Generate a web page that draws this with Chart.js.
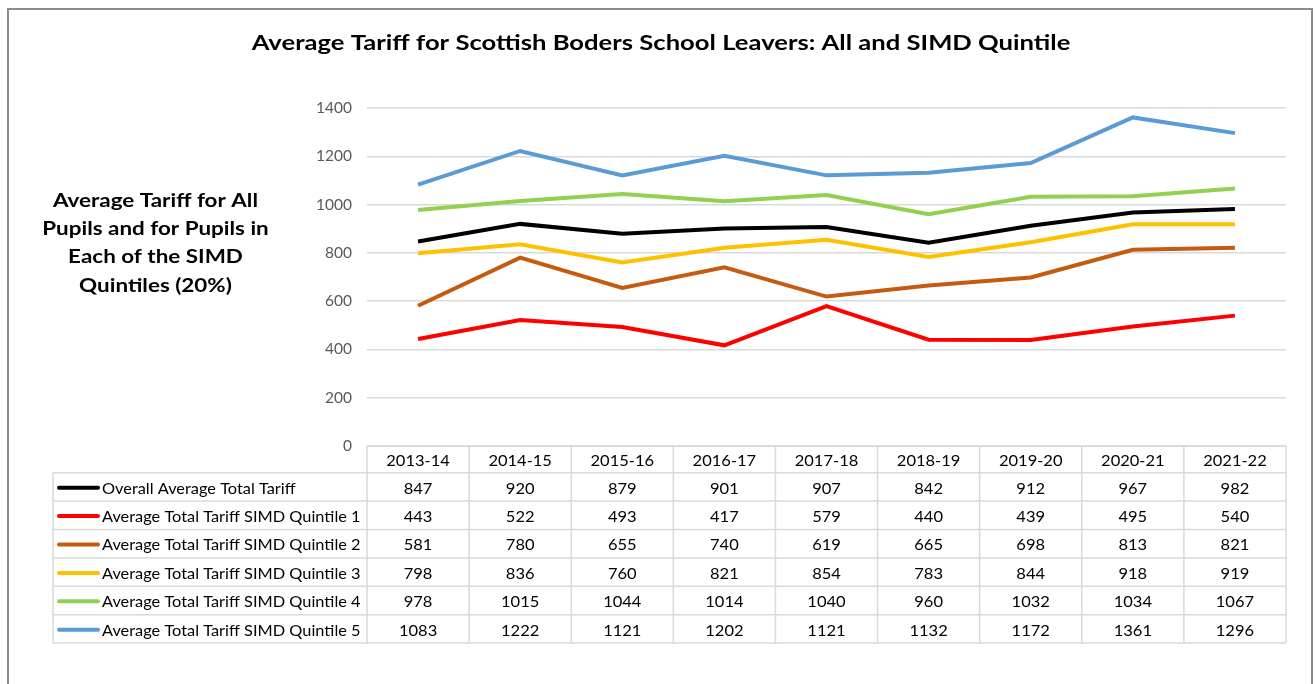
<!DOCTYPE html>
<html>
<head>
<meta charset="utf-8">
<title>Average Tariff for Scottish Boders School Leavers</title>
<script src="https://cdn.jsdelivr.net/npm/chart.js@4/dist/chart.umd.min.js"></script>
<style>
  html, body { margin: 0; padding: 0; background: #fff; }
  #wrap { width: 1315px; height: 684px; position: relative; }
</style>
</head>
<body>
<div id="wrap"><canvas id="chart"></canvas></div>
<script>
const years = ['2013-14', '2014-15', '2015-16', '2016-17', '2017-18', '2018-19', '2019-20', '2020-21', '2021-22'];

const overall = [847, 920, 879, 901, 907, 842, 912, 967, 982];
const quintile1 = [443, 522, 493, 417, 579, 440, 439, 495, 540];
const quintile2 = [581, 780, 655, 740, 619, 665, 698, 813, 821];
const quintile3 = [798, 836, 760, 821, 854, 783, 844, 918, 919];
const quintile4 = [978, 1015, 1044, 1014, 1040, 960, 1032, 1034, 1067];
const quintile5 = [1083, 1222, 1121, 1202, 1121, 1132, 1172, 1361, 1296];

const yTicks = [0, 200, 400, 600, 800, 1000, 1200, 1400];

const titleText = 'Average Tariff for Scottish Boders School Leavers: All and SIMD Quintile';
const axisTitleLines = ['Average Tariff for All', 'Pupils and for Pupils in', 'Each of the SIMD', 'Quintiles (20%)'];

const FONT = 'Lato, "Open Sans", sans-serif';

function series(label, data, color) {
    return {
        label: label,
        data: data,
        borderColor: color,
        backgroundColor: color,
        borderWidth: 4,
        pointRadius: 0,
        pointHoverRadius: 0,
        tension: 0
    };
}

// text drawn a little wider than the font's own proportions
function wideText(ctx, text, x, y, sx, align) {
    ctx.save();
    ctx.translate(x, y);
    ctx.scale(sx, 1);
    ctx.textAlign = align;
    ctx.fillText(text, 0, 0);
    ctx.restore();
}

// title, horizontal axis title, outer frame and the data table under the plot
const decorations = {
    id: 'decorations',
    afterDraw(chart) {
        const ctx = chart.ctx;
        const area = chart.chartArea;
        const xs = chart.scales.x;
        ctx.save();

        // outer frame
        ctx.strokeStyle = '#8c8c8c';
        ctx.lineWidth = 2;
        ctx.strokeRect(8, 9, 1304, 700);

        // title
        ctx.fillStyle = '#000';
        ctx.textBaseline = 'alphabetic';
        ctx.font = 'bold 21px ' + FONT;
        wideText(ctx, titleText, 661, 50, 1.22, 'center');

        // axis title, written horizontally at the left
        ctx.font = 'bold 19px ' + FONT;
        axisTitleLines.forEach((line, i) => wideText(ctx, line, 155.5, 206.5 + i * 28.4, 1.18, 'center'));

        // data table
        const colW = area.width / years.length;
        const headTop = area.bottom;
        const headH = 26.7;
        const rowH = 28.4;
        const labelLeft = 53;
        const ds = chart.data.datasets;
        const tableBottom = headTop + headH + ds.length * rowH;

        ctx.strokeStyle = '#d9d9d9';
        ctx.lineWidth = 1.5;
        ctx.beginPath();
        ctx.moveTo(area.left, headTop);
        ctx.lineTo(area.right, headTop);
        for (let r = 0; r <= ds.length; r++) {
            const y = headTop + headH + r * rowH;
            ctx.moveTo(labelLeft, y);
            ctx.lineTo(area.right, y);
        }
        for (let c = 0; c <= years.length; c++) {
            const x = area.left + c * colW;
            ctx.moveTo(x, headTop);
            ctx.lineTo(x, tableBottom);
        }
        ctx.moveTo(labelLeft, headTop + headH);
        ctx.lineTo(labelLeft, tableBottom);
        ctx.stroke();

        ctx.font = '15px ' + FONT;
        ctx.fillStyle = '#000';
        ctx.textBaseline = 'middle';
        years.forEach((yr, i) => {
            wideText(ctx, yr, xs.getPixelForValue(i), headTop + headH / 2 + 1.5, 1.1, 'center');
        });

        ds.forEach((d, r) => {
            const cy = headTop + headH + r * rowH + rowH / 2 + 1.8;
            // legend swatch
            ctx.strokeStyle = d.borderColor;
            ctx.lineWidth = 4;
            ctx.lineCap = 'round';
            ctx.beginPath();
            ctx.moveTo(59, cy - 1);
            ctx.lineTo(98, cy - 1);
            ctx.stroke();
            wideText(ctx, d.label, 102, cy, 1.09, 'left');
            d.data.forEach((v, i) => {
                wideText(ctx, String(v), xs.getPixelForValue(i), cy, 1.1, 'center');
            });
        });

        ctx.restore();
    }
};

new Chart(document.getElementById('chart'), {
    type: 'line',
    data: {
        labels: years,
        datasets: [
            series('Overall Average Total Tariff', overall, '#000000'),
            series('Average Total Tariff SIMD Quintile 1', quintile1, '#ff0000'),
            series('Average Total Tariff SIMD Quintile 2', quintile2, '#c55a11'),
            series('Average Total Tariff SIMD Quintile 3', quintile3, '#ffc000'),
            series('Average Total Tariff SIMD Quintile 4', quintile4, '#92d050'),
            series('Average Total Tariff SIMD Quintile 5', quintile5, '#5b9bd5')
        ]
    },
    options: {
        responsive: true,
        maintainAspectRatio: false,
        animation: false,
        layout: {
            padding: { left: 300, right: 29, top: 108, bottom: 238 }
        },
        scales: {
            x: {
                display: false,
                offset: true
            },
            y: {
                min: 0,
                max: 1400,
                afterBuildTicks: (scale) => {
                    scale.ticks = yTicks.map(v => ({ value: v }));
                },
                afterFit: (scale) => { scale.width = 67; },
                border: { display: false },
                grid: { color: '#d9d9d9', lineWidth: 1.5, drawTicks: false },
                ticks: {
                    color: '#595959',
                    padding: 15,
                    font: { family: FONT, size: 15.5 },
                    callback: (v) => String(v)
                }
            }
        },
        plugins: {
            legend: { display: false },
            title: { display: false },
            tooltip: { enabled: false }
        }
    },
    plugins: [decorations]
});
</script>
</body>
</html>
